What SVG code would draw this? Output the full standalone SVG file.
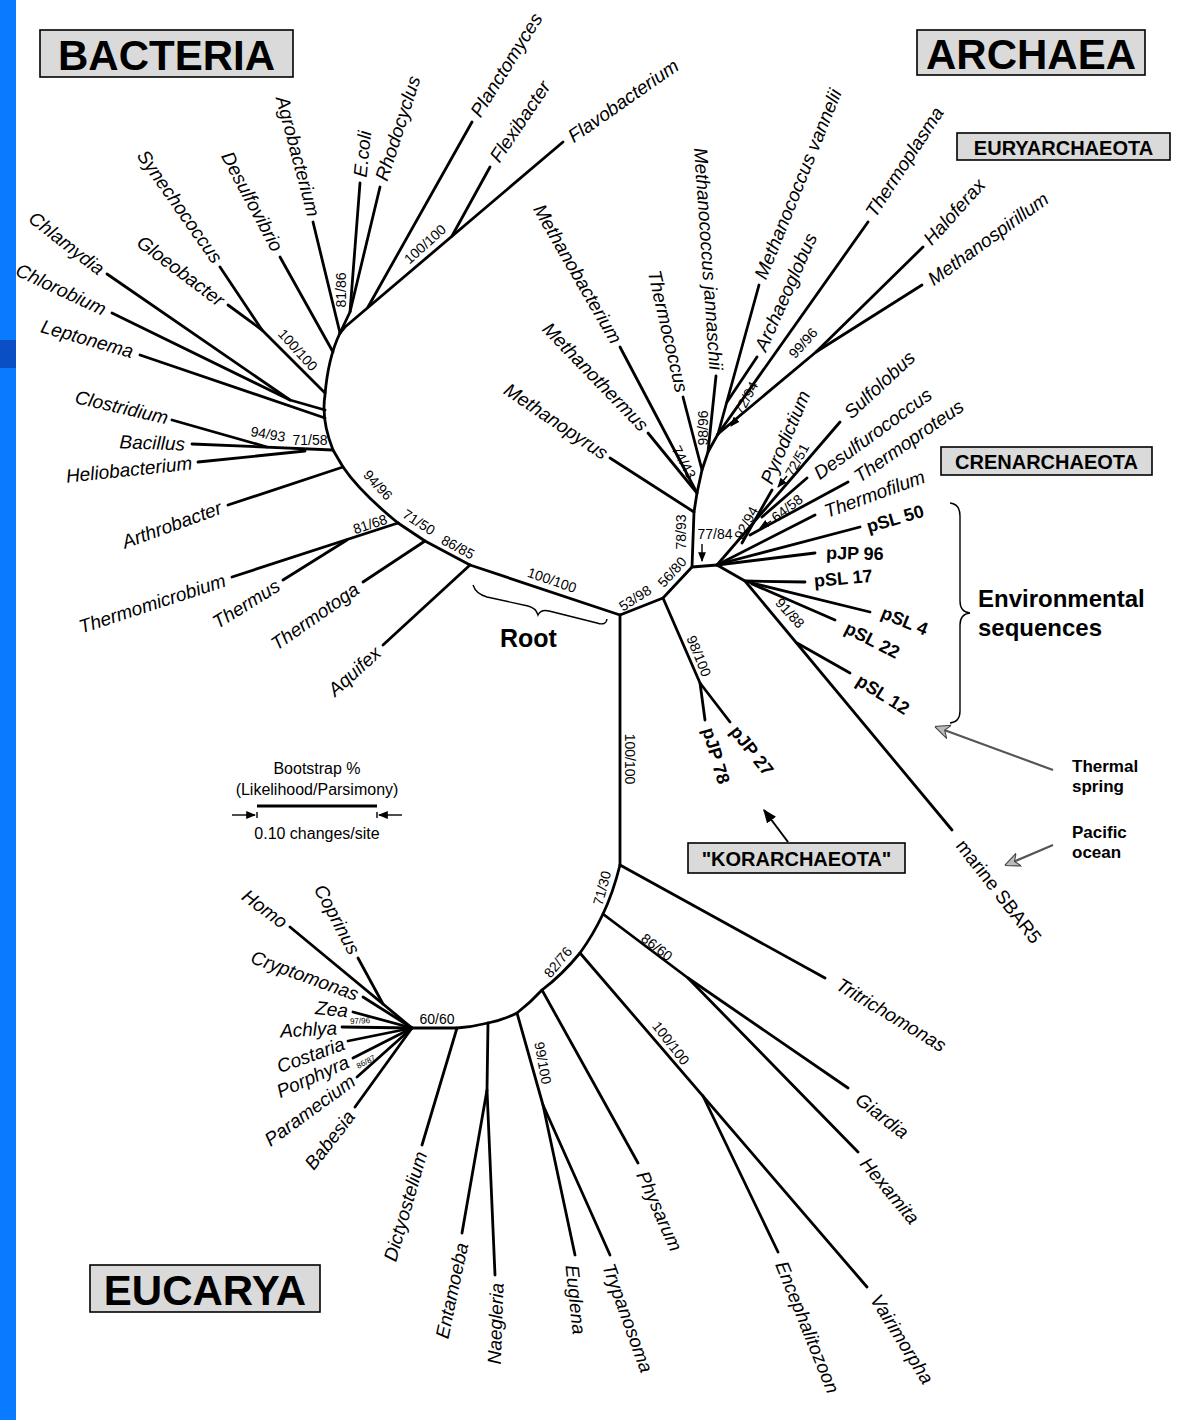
<svg xmlns="http://www.w3.org/2000/svg" width="1177" height="1420" viewBox="0 0 1177 1420">
<style>
.br{stroke:#000;stroke-width:2.8;fill:none;stroke-linecap:round;stroke-linejoin:round}
.thin{stroke:#000;stroke-width:1.4;fill:none}
.t{font-family:"Liberation Sans",Arial,sans-serif;font-style:italic;font-size:19px;dominant-baseline:central;fill:#000}
.u{font-family:"Liberation Sans",Arial,sans-serif;font-size:19px;dominant-baseline:central;fill:#000}
.e{font-family:"Liberation Sans",Arial,sans-serif;font-weight:bold;font-size:18px;dominant-baseline:central;fill:#000}
.bs{font-family:"Liberation Sans",Arial,sans-serif;font-size:14px;dominant-baseline:central;text-anchor:middle;fill:#000}
.tiny{font-family:"Liberation Sans",Arial,sans-serif;font-size:8px;dominant-baseline:central;text-anchor:middle;fill:#000}
.box{fill:#dadada;stroke:#000;stroke-width:1.6}
.ttl{font-family:"Liberation Sans",Arial,sans-serif;font-weight:bold;text-anchor:middle;dominant-baseline:central;fill:#000}
.lg{font-family:"Liberation Sans",Arial,sans-serif;font-size:16px;text-anchor:middle;dominant-baseline:central;fill:#000}
.bold{font-family:"Liberation Sans",Arial,sans-serif;font-weight:bold;fill:#000}
</style>
<defs>
<marker id="ah" viewBox="0 0 10 10" refX="9" refY="5" markerWidth="7" markerHeight="7" orient="auto"><path d="M0,1 L10,5 L0,9 z" fill="#000"/></marker>
<marker id="ga" viewBox="0 0 10 10" refX="9" refY="5" markerWidth="7" markerHeight="7" orient="auto"><path d="M0,0.5 L10,5 L0,9.5 L3,5 z" fill="#bbb" stroke="#444" stroke-width="0.7"/></marker>
</defs>
<rect x="0" y="0" width="1177" height="1420" fill="#fff"/>
<rect x="0" y="0" width="16" height="1420" fill="#0a7bff"/>
<rect x="0" y="340" width="16" height="28" fill="#0a4fc4"/>

<g id="titles">
<g id="bacteria-title"><rect class="box" x="40" y="30" width="253" height="47"/><text class="ttl" x="166.5" y="55" font-size="42">BACTERIA</text></g>
<g id="archaea-title"><rect class="box" x="917" y="30" width="228" height="45"/><text class="ttl" x="1031" y="54" font-size="42">ARCHAEA</text></g>
<g id="euryarchaeota-title"><rect class="box" x="957" y="133" width="213" height="27"/><text class="ttl" x="1063.5" y="147.5" font-size="20">EURYARCHAEOTA</text></g>
<g id="crenarchaeota-title"><rect class="box" x="941" y="447" width="211" height="28"/><text class="ttl" x="1046.5" y="462" font-size="20">CRENARCHAEOTA</text></g>
<g id="korarchaeota-title"><rect class="box" x="688" y="843" width="217" height="30"/><text class="ttl" x="796.5" y="859" font-size="20">"KORARCHAEOTA"</text></g>
<g id="eucarya-title"><rect class="box" x="90" y="1265" width="230" height="47"/><text class="ttl" x="205" y="1290" font-size="42">EUCARYA</text></g>
</g>

<g id="connectors">
<!-- central -->
<path class="br" d="M470,565 L620,615 L663,598 L692,567 L717,565"/>
<path class="br" d="M620,615 L620,865"/>
<!-- Bacteria -->
<path class="br" d="M470,565 L383,645"/>
<path class="br" d="M470,565 L425,541 L398,523"/>
<path class="br" d="M425,541 L363,582"/>
<path class="br" d="M398,523 L232,577"/>
<path class="br" d="M347,540 L283,580"/>
<path class="br" d="M398,523 Q360,492 343,467 L333,450 Q321,420 325,395 Q328,358 340,333"/>
<path class="br" d="M343,467 L228,505"/>
<path class="br" d="M333,450 L192,444"/>
<path class="br" d="M267,447 L172,420"/>
<path class="br" d="M305,451 L198,462"/>
<path class="br" d="M325,418 L140,355"/>
<path class="br" d="M325,410 L290,400 L107,274"/>
<path class="br" d="M290,400 L112,313"/>
<path class="br" d="M325,393 L262,330 L220,267"/>
<path class="br" d="M262,330 L228,305"/>
<path class="br" d="M333,352 L280,257"/>
<path class="br" d="M340,333 L313,222"/>
<path class="br" d="M340,333 L350,312 L360,183"/>
<path class="br" d="M350,312 L380,187"/>
<path class="br" d="M340,333 L345,327 L563,142"/>
<path class="br" d="M368,307 L472,122"/>
<path class="br" d="M452,236 L490,167"/>
<!-- Euryarchaeota -->
<path class="br" d="M692,567 L694,512 L697,493 L702,470 L708,452 L718,434"/>
<path class="br" d="M694,512 L610,458"/>
<path class="br" d="M697,493 L648,433"/>
<path class="br" d="M697,493 L620,347"/>
<path class="br" d="M702,470 L683,397"/>
<path class="br" d="M708,452 L716,376"/>
<path class="br" d="M718,434 L759,285"/>
<path class="br" d="M727,402 L757,357"/>
<path class="br" d="M718,434 L868,222"/>
<path class="br" d="M718,434 L816,352 L923,247"/>
<path class="br" d="M816,352 L922,285"/>
<!-- Crenarchaeota -->
<path class="br" d="M717,565 L840,422"/>
<path class="br" d="M762,517 L807,478"/>
<path class="br" d="M750,535 L848,482"/>
<path class="br" d="M742,543 L772,490"/>
<path class="br" d="M719,564 L815,515"/>
<path class="br" d="M719,564 L860,527"/>
<path class="br" d="M717,565 L815,553"/>
<path class="br" d="M717,565 L745,581 L952,830"/>
<path class="br" d="M745,581 L805,582"/>
<path class="br" d="M748,582 L870,612"/>
<path class="br" d="M752,584 L835,620"/>
<path class="br" d="M797,643 L850,673"/>
<!-- Korarchaeota -->
<path class="br" d="M663,598 L700,683 L730,722"/>
<path class="br" d="M700,683 L705,720"/>
<!-- Eucarya -->
<path class="br" d="M620,865 Q613,893 603,914 Q593,935 580,953 Q562,975 542,990 Q530,1003 517,1013 Q503,1020 488,1023 Q472,1027 457,1028 L412,1028"/>
<path class="br" d="M620,865 L825,978"/>
<path class="br" d="M603,914 L688,978 L848,1088"/>
<path class="br" d="M688,978 L858,1152"/>
<path class="br" d="M580,953 L867,1287"/>
<path class="br" d="M703,1096 L778,1252"/>
<path class="br" d="M542,990 L638,1163"/>
<path class="br" d="M517,1013 L543,1105 L575,1255"/>
<path class="br" d="M543,1105 L610,1255"/>
<path class="br" d="M488,1023 L487,1090 L462,1233"/>
<path class="br" d="M487,1090 L495,1275"/>
<path class="br" d="M457,1028 L422,1145"/>
<path class="br" d="M412,1028 L290,927"/>
<path class="br" d="M383,1004 L358,958"/>
<path class="br" d="M412,1028 L363,997"/>
<path class="br" d="M412,1028 L353,1012"/>
<path class="br" d="M412,1028 L342,1027"/>
<path class="br" d="M412,1028 L348,1041"/>
<path class="br" d="M412,1028 L353,1058"/>
<path class="br" d="M412,1028 L357,1077"/>
<path class="br" d="M412,1028 L355,1107"/>
<!-- small pointer arrows -->
<line class="thin" x1="702" y1="544" x2="702" y2="561" marker-end="url(#ah)"/>
<line class="thin" x1="741" y1="414" x2="731" y2="426" marker-end="url(#ah)"/>
<line class="thin" x1="787" y1="476" x2="778" y2="487" marker-end="url(#ah)"/>
<line class="thin" x1="771" y1="521" x2="760" y2="528" marker-end="url(#ah)"/>
<!-- korarchaeota arrow -->
<line stroke="#000" stroke-width="2" x1="788" y1="842" x2="764" y2="810" marker-end="url(#ah)"/>
<!-- gray arrows -->
<line stroke="#555" stroke-width="2.2" x1="1053" y1="770" x2="936" y2="727" marker-end="url(#ga)"/>
<line stroke="#555" stroke-width="2.2" x1="1053" y1="845" x2="1006" y2="865" marker-end="url(#ga)"/>
<!-- braces -->
<path class="thin" stroke-width="1.8" d="M473,585 Q476,594 487,597 L528,606 Q536,608 538,615 Q541,609 549,611 L597,623 Q606,626 607,619"/>
<path class="thin" stroke-width="1.8" d="M950,503 Q960,504 960,516 L960,601 Q960,612 970,613 Q960,614 960,625 L960,711 Q960,722 950,723"/>
</g>

<g id="bootstrap-labels">
<text class="bs" transform="translate(341,290) rotate(-90)">81/86</text>
<text class="bs" transform="translate(425,244) rotate(-42)">100/100</text>
<text class="bs" transform="translate(298,350) rotate(48)">100/100</text>
<text class="bs" transform="translate(268,434) rotate(10)">94/93</text>
<text class="bs" transform="translate(310,440)">71/58</text>
<text class="bs" transform="translate(378,485) rotate(47)">94/96</text>
<text class="bs" transform="translate(370,524) rotate(-18)">81/68</text>
<text class="bs" transform="translate(419,522) rotate(33)">71/50</text>
<text class="bs" transform="translate(458,547) rotate(28)">86/85</text>
<text class="bs" transform="translate(552,580) rotate(19)">100/100</text>
<text class="bs" transform="translate(635,598) rotate(-33)">53/98</text>
<text class="bs" transform="translate(672,572) rotate(-48)">56/80</text>
<text class="bs" transform="translate(681,532) rotate(-90)">78/93</text>
<text class="bs" transform="translate(684,462) rotate(62)">74/43</text>
<text class="bs" transform="translate(703,428) rotate(-90)">98/96</text>
<text class="bs" transform="translate(746,398) rotate(-62)">72/94</text>
<text class="bs" transform="translate(803,343) rotate(-48)">99/96</text>
<text class="bs" transform="translate(746,523) rotate(-62)">92/94</text>
<text class="bs" transform="translate(797,460) rotate(-62)">72/51</text>
<text class="bs" transform="translate(787,508) rotate(-38)">64/58</text>
<text class="bs" transform="translate(715,534)">77/84</text>
<text class="bs" transform="translate(790,613) rotate(47)">91/88</text>
<text class="bs" transform="translate(699,656) rotate(68)">98/100</text>
<text class="bs" transform="translate(630,759) rotate(90)">100/100</text>
<text class="bs" transform="translate(602,888) rotate(-75)">71/30</text>
<text class="bs" transform="translate(657,947) rotate(38)">86/60</text>
<text class="bs" transform="translate(558,962) rotate(-50)">82/76</text>
<text class="bs" transform="translate(671,1043) rotate(52)">100/100</text>
<text class="bs" transform="translate(543,1063) rotate(80)">99/100</text>
<text class="bs" transform="translate(437,1019)">60/60</text>
<text class="tiny" transform="translate(360,1021) rotate(-3)">97/96</text>
<text class="tiny" transform="translate(366,1062) rotate(-28)">86/87</text>
</g>

<g id="bacteria-taxa">
<g id="n-agrobacterium"><text class="t" text-anchor="end" transform="translate(314,216) rotate(75)">Agrobacterium</text></g>
<g id="n-ecoli"><text class="t" text-anchor="start" transform="translate(360,177) rotate(-84)">E.coli</text></g>
<g id="n-rhodocyclus"><text class="t" text-anchor="start" transform="translate(381,180) rotate(-72)">Rhodocyclus</text></g>
<g id="n-planctomyces"><text class="t" text-anchor="start" transform="translate(475,115) rotate(-58)">Planctomyces</text></g>
<g id="n-flexibacter"><text class="t" text-anchor="start" transform="translate(494,160) rotate(-56)">Flexibacter</text></g>
<g id="n-flavobacterium"><text class="t" text-anchor="start" transform="translate(570,138) rotate(-35)">Flavobacterium</text></g>
<g id="n-desulfovibrio"><text class="t" text-anchor="end" transform="translate(278,250) rotate(62)">Desulfovibrio</text></g>
<g id="n-synechococcus"><text class="t" text-anchor="end" transform="translate(218,261) rotate(55)">Synechococcus</text></g>
<g id="n-gloeobacter"><text class="t" text-anchor="end" transform="translate(222,302) rotate(37)">Gloeobacter</text></g>
<g id="n-chlamydia"><text class="t" text-anchor="end" transform="translate(102,271) rotate(38)">Chlamydia</text></g>
<g id="n-chlorobium"><text class="t" text-anchor="end" transform="translate(105,310) rotate(25)">Chlorobium</text></g>
<g id="n-leptonema"><text class="t" text-anchor="end" transform="translate(133,352) rotate(16)">Leptonema</text></g>
<g id="n-clostridium"><text class="t" text-anchor="end" transform="translate(168,418) rotate(13)">Clostridium</text></g>
<g id="n-bacillus"><text class="t" text-anchor="end" transform="translate(185,444) rotate(2)">Bacillus</text></g>
<g id="n-heliobacterium"><text class="t" text-anchor="end" transform="translate(192,463) rotate(-6)">Heliobacterium</text></g>
<g id="n-arthrobacter"><text class="t" text-anchor="end" transform="translate(221,507) rotate(-20)">Arthrobacter</text></g>
<g id="n-thermomicrobium"><text class="t" text-anchor="end" transform="translate(225,580) rotate(-18)">Thermomicrobium</text></g>
<g id="n-thermus"><text class="t" text-anchor="end" transform="translate(278,584) rotate(-32)">Thermus</text></g>
<g id="n-thermotoga"><text class="t" text-anchor="end" transform="translate(357,587) rotate(-35)">Thermotoga</text></g>
<g id="n-aquifex"><text class="t" text-anchor="end" transform="translate(378,650) rotate(-42)">Aquifex</text></g>
</g>

<g id="archaea-taxa">
<g id="n-methanobacterium"><text class="t" text-anchor="end" transform="translate(617,342) rotate(60)">Methanobacterium</text></g>
<g id="n-methanothermus"><text class="t" text-anchor="end" transform="translate(645,428) rotate(46)">Methanothermus</text></g>
<g id="n-methanopyrus"><text class="t" text-anchor="end" transform="translate(606,455) rotate(34)">Methanopyrus</text></g>
<g id="n-thermococcus"><text class="t" text-anchor="end" transform="translate(682,392) rotate(77)">Thermococcus</text></g>
<g id="n-mjannaschii"><text class="t" text-anchor="end" transform="translate(716,370) rotate(86)">Methanococcus jannaschii</text></g>
<g id="n-mvannelii"><text class="t" text-anchor="start" transform="translate(760,278) rotate(-68)">Methanococcus vannelii</text></g>
<g id="n-archaeoglobus"><text class="t" text-anchor="start" transform="translate(760,350) rotate(-66)">Archaeoglobus</text></g>
<g id="n-thermoplasma"><text class="t" text-anchor="start" transform="translate(870,215) rotate(-57)">Thermoplasma</text></g>
<g id="n-haloferax"><text class="t" text-anchor="start" transform="translate(927,242) rotate(-48)">Haloferax</text></g>
<g id="n-methanospirillum"><text class="t" text-anchor="start" transform="translate(930,281) rotate(-36)">Methanospirillum</text></g>
<g id="n-pyrodictium"><text class="t" text-anchor="start" transform="translate(766,483) rotate(-67)">Pyrodictium</text></g>
<g id="n-sulfolobus"><text class="t" text-anchor="start" transform="translate(847,415) rotate(-43)">Sulfolobus</text></g>
<g id="n-desulfurococcus"><text class="t" text-anchor="start" transform="translate(816,475) rotate(-36)">Desulfurococcus</text></g>
<g id="n-thermoproteus"><text class="t" text-anchor="start" transform="translate(856,478) rotate(-35)">Thermoproteus</text></g>
<g id="n-thermofilum"><text class="t" text-anchor="start" transform="translate(825,512) rotate(-20)">Thermofilum</text></g>
<g id="n-psl50"><text class="e" text-anchor="start" transform="translate(867,527) rotate(-16)">pSL 50</text></g>
<g id="n-pjp96"><text class="e" text-anchor="start" transform="translate(826,553) rotate(1)">pJP 96</text></g>
<g id="n-psl17"><text class="e" text-anchor="start" transform="translate(814,581) rotate(-5)">pSL 17</text></g>
<g id="n-psl4"><text class="e" text-anchor="start" transform="translate(882,612) rotate(22)">pSL 4</text></g>
<g id="n-psl22"><text class="e" text-anchor="start" transform="translate(846,627) rotate(27)">pSL 22</text></g>
<g id="n-psl12"><text class="e" text-anchor="start" transform="translate(858,679) rotate(32)">pSL 12</text></g>
<g id="n-pjp27"><text class="e" text-anchor="start" transform="translate(734,728) rotate(52)">pJP 27</text></g>
<g id="n-pjp78"><text class="e" text-anchor="start" transform="translate(708,728) rotate(74)">pJP 78</text></g>
<g id="n-sbar5"><text class="u" text-anchor="start" transform="translate(960,842) rotate(52)">marine SBAR5</text></g>
</g>

<g id="eucarya-taxa">
<g id="n-tritrichomonas"><text class="t" text-anchor="start" transform="translate(838,983) rotate(31)">Tritrichomonas</text></g>
<g id="n-giardia"><text class="t" text-anchor="start" transform="translate(858,1097) rotate(38)">Giardia</text></g>
<g id="n-hexamita"><text class="t" text-anchor="start" transform="translate(864,1160) rotate(50)">Hexamita</text></g>
<g id="n-vairimorpha"><text class="t" text-anchor="start" transform="translate(875,1296) rotate(58)">Vairimorpha</text></g>
<g id="n-encephalitozoon"><text class="t" text-anchor="start" transform="translate(781,1262) rotate(68)">Encephalitozoon</text></g>
<g id="n-physarum"><text class="t" text-anchor="start" transform="translate(642,1172) rotate(66)">Physarum</text></g>
<g id="n-trypanosoma"><text class="t" text-anchor="start" transform="translate(608,1264) rotate(70)">Trypanosoma</text></g>
<g id="n-euglena"><text class="t" text-anchor="start" transform="translate(572,1265) rotate(84)">Euglena</text></g>
<g id="n-naegleria"><text class="t" text-anchor="end" transform="translate(497,1283) rotate(-88)">Naegleria</text></g>
<g id="n-entamoeba"><text class="t" text-anchor="end" transform="translate(462,1243) rotate(-78)">Entamoeba</text></g>
<g id="n-dictyostelium"><text class="t" text-anchor="end" transform="translate(421,1152) rotate(-74)">Dictyostelium</text></g>
<g id="n-babesia"><text class="t" text-anchor="end" transform="translate(351,1113) rotate(-52)">Babesia</text></g>
<g id="n-paramecium"><text class="t" text-anchor="end" transform="translate(353,1079) rotate(-36)">Paramecium</text></g>
<g id="n-porphyra"><text class="t" text-anchor="end" transform="translate(348,1061) rotate(-24)">Porphyra</text></g>
<g id="n-costaria"><text class="t" text-anchor="end" transform="translate(344,1043) rotate(-20)">Costaria</text></g>
<g id="n-achlya"><text class="t" text-anchor="end" transform="translate(337,1028) rotate(-3)">Achlya</text></g>
<g id="n-zea"><text class="t" text-anchor="end" transform="translate(348,1011) rotate(6)">Zea</text></g>
<g id="n-cryptomonas"><text class="t" text-anchor="end" transform="translate(358,995) rotate(20)">Cryptomonas</text></g>
<g id="n-coprinus"><text class="t" text-anchor="end" transform="translate(355,953) rotate(62)">Coprinus</text></g>
<g id="n-homo"><text class="t" text-anchor="end" transform="translate(285,924) rotate(37)">Homo</text></g>
</g>

<g id="annotations">
<g id="root-label"><text class="bold" x="500" y="647" font-size="25">Root</text></g>
<g id="env-label"><text class="bold" x="978" y="607" font-size="24">Environmental</text><text class="bold" x="978" y="636" font-size="24">sequences</text></g>
<g id="thermal-label"><text class="bold" x="1072" y="772" font-size="17">Thermal</text><text class="bold" x="1072" y="792" font-size="17">spring</text></g>
<g id="pacific-label"><text class="bold" x="1072" y="838" font-size="17">Pacific</text><text class="bold" x="1072" y="858" font-size="17">ocean</text></g>
<g id="legend">
<text class="lg" x="317" y="768">Bootstrap %</text>
<text class="lg" x="317" y="789">(Likelihood/Parsimony)</text>
<line stroke="#000" stroke-width="3" x1="257" y1="806" x2="377" y2="806"/>
<line class="thin" x1="257" y1="812" x2="257" y2="818"/>
<line class="thin" x1="377" y1="812" x2="377" y2="818"/>
<line class="thin" x1="232" y1="815" x2="255" y2="815" marker-end="url(#ah)"/>
<line class="thin" x1="402" y1="815" x2="379" y2="815" marker-end="url(#ah)"/>
<text class="lg" x="317" y="833">0.10 changes/site</text>
</g>
</g>
</svg>
